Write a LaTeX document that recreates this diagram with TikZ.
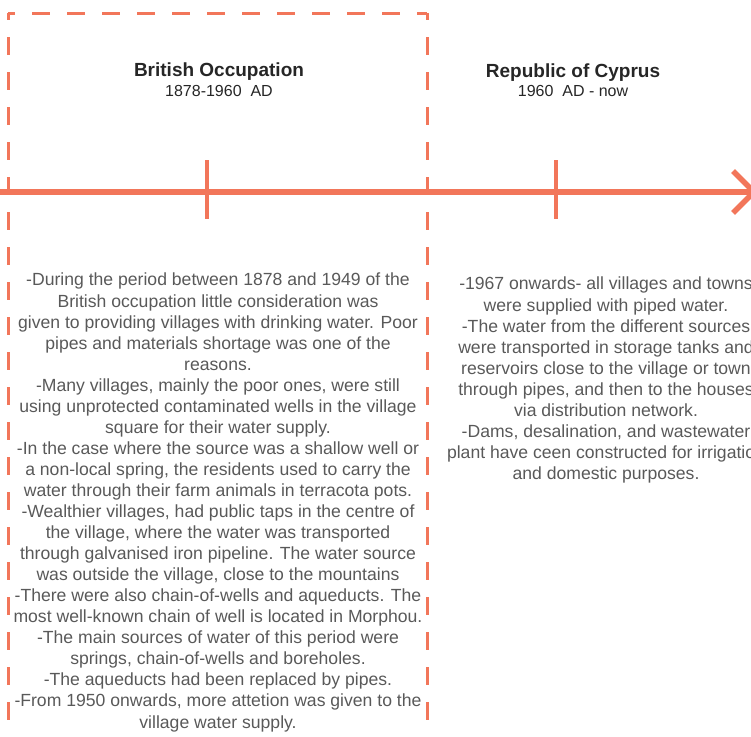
\documentclass[tikz,border=0pt]{standalone}
\usepackage{fontspec}
\setmainfont{Liberation Sans}
\usetikzlibrary{positioning}
\definecolor{coral}{HTML}{F2765A}
\definecolor{bodygray}{HTML}{595959}
\definecolor{titlegray}{HTML}{262626}
\tikzset{
  timeline/.style={draw=coral,line width=5.5pt},
  yeartick/.style={draw=coral,line width=4pt},
  periodbox/.style={draw=coral,line width=3pt,dash pattern=on 18pt off 17pt,dash phase=11pt},
  eratitle/.style={font=\fontsize{19}{22}\selectfont\bfseries,text=titlegray,inner sep=0pt,anchor=base},
  eradate/.style={font=\fontsize{16}{19}\selectfont,text=titlegray,inner sep=0pt,anchor=base},
  notes/.style={font=\fontsize{17.6}{21.05}\selectfont,text=bodygray,align=center,inner sep=0pt,anchor=north}
}

\begin{document}
\begin{tikzpicture}[x=1pt,y=-1pt]
\useasboundingbox (0,0) rectangle (751,736);
\clip (0,0) rectangle (751,736);
% frame round the first period, open at the bottom
\coordinate (boxtl) at (8,13);
\coordinate (boxtr) at (427,13);
\coordinate (boxbl) at (8,760);
\coordinate (boxbr) at (427,760);
\draw[periodbox] (boxtl) -- (boxtr);
\draw[periodbox] (boxtl) -- (boxbl);
\draw[periodbox] (boxtr) -- (boxbr);
%
% the time axis with its year ticks
\coordinate (start) at (0,192);
\coordinate (tip) at (754,192);
\draw[timeline] (start) -- (tip);
\draw[timeline] (tip) ++(-21,-21) -- (tip) -- ++(-21,21);
\foreach \x in {207,556}
  \draw[yeartick] (\x,160) -- (\x,219);
%
\node (brit) [eratitle] at (219,76) {British Occupation};
\node (britdate) [eradate] at (219,96) {1878-1960\ \ AD};
\node (rep) [eratitle] at (573,77) {Republic of Cyprus};
\node (repdate) [eradate] at (573,96) {1960\ \ AD - now};
%
\node (britnotes) [notes] at (218,273) {-During the period between 1878 and 1949 of the\\
British occupation little consideration was\\
given to providing villages with drinking water. Poor\\
pipes and materials shortage was one of the\\
reasons.\\
-Many villages, mainly the poor ones, were still\\
using unprotected contaminated wells in the village\\
square for their water supply.\\
-In the case where the source was a shallow well or\\
a non-local spring, the residents used to carry the\\
water through their farm animals in terracota pots.\\
-Wealthier villages, had public taps in the centre of\\
the village, where the water was transported\\
through galvanised iron pipeline. The water source\\
was outside the village, close to the mountains\\
-There were also chain-of-wells and aqueducts. The\\
most well-known chain of well is located in Morphou.\\
-The main sources of water of this period were\\
springs, chain-of-wells and boreholes.\\
-The aqueducts had been replaced by pipes.\\
-From 1950 onwards, more attetion was given to the\\
village water supply.};
\node (repnotes) [notes] at (606,277) {-1967 onwards- all villages and towns\\
were supplied with piped water.\\
-The water from the different sources\\
were transported in storage tanks and\\
reservoirs close to the village or town\\
through pipes, and then to the houses\\
via distribution network.\\
-Dams, desalination, and wastewater\\
plant have ceen constructed for irrigation\\
and domestic purposes.};
\end{tikzpicture}
\end{document}
